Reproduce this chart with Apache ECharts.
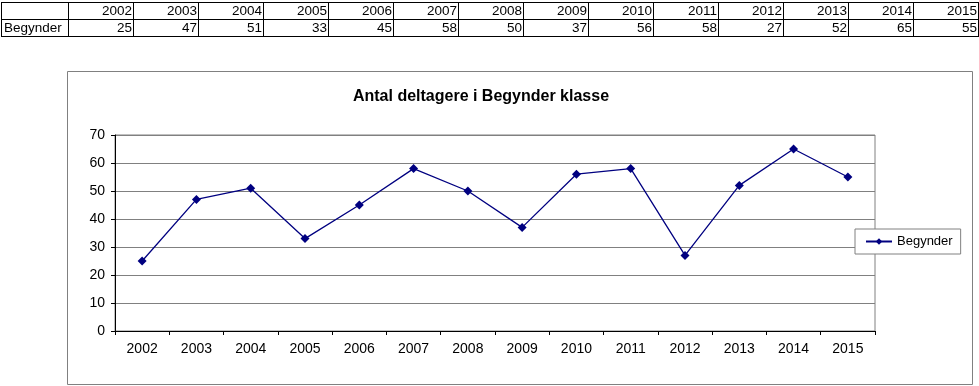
<!DOCTYPE html>
<html>
<head>
<meta charset="utf-8">
<script src="https://cdn.jsdelivr.net/npm/echarts@6/dist/echarts.min.js"></script>
<style>
  html, body { margin: 0; padding: 0; background: #fff; }
  #wrap { position: relative; width: 979px; height: 386px; overflow: hidden; }
  #chart { position: absolute; left: 0; top: 0; width: 979px; height: 386px; }
  #tbl { position: absolute; left: 1px; top: 2px; border-collapse: collapse;
         font-family: "Liberation Sans", Arial, sans-serif; font-size: 13.5px; z-index: 2; }
  #tbl td { border: 1px solid #000; height: 16px; padding: 0 1px 0 2px; line-height: 16px; }
  #tbl td.lab { width: 63px; text-align: left; }
  #tbl td.num { width: 61px; text-align: right; }
</style>
</head>
<body>
<div id="wrap">
  <table id="tbl"></table>
  <div id="chart"></div>
</div>
<script>
const years = ['2002','2003','2004','2005','2006','2007','2008','2009','2010','2011','2012','2013','2014','2015'];
const seriesName = 'Begynder';
const values = [25, 47, 51, 33, 45, 58, 50, 37, 56, 58, 27, 52, 65, 55];
const chartTitle = 'Antal deltagere i Begynder klasse';

// table
const tbl = document.getElementById('tbl');
let r1 = '<tr><td class="lab"></td>' + years.map(y => '<td class="num">' + y + '</td>').join('') + '</tr>';
let r2 = '<tr><td class="lab">' + seriesName + '</td>' + values.map(v => '<td class="num">' + v + '</td>').join('') + '</tr>';
tbl.innerHTML = r1 + r2;

const font = '"Liberation Sans", Arial, sans-serif';
const chart = echarts.init(document.getElementById('chart'), null, { renderer: 'canvas' });
chart.setOption({
  animation: false,
  backgroundColor: 'transparent',
  textStyle: { fontFamily: font },
  graphic: [{
    type: 'rect', shape: { x: 67.5, y: 71.5, width: 905, height: 313 },
    style: { fill: '#fff', stroke: '#808080', lineWidth: 1 }, z: -10
  }],
  title: {
    text: chartTitle, left: 480, top: 84, textAlign: 'center',
    textStyle: { fontFamily: font, fontSize: 16, fontWeight: 'bold', color: '#000' }
  },
  legend: {
    data: [seriesName], left: 855, top: 229, orient: 'vertical',
    itemWidth: 26, itemHeight: 8, itemGap: 0,
    padding: [6, 8, 6, 10],
    borderColor: '#808080', borderWidth: 1, borderRadius: 0,
    backgroundColor: '#fff',
    textStyle: { fontFamily: font, fontSize: 13, color: '#000' }
  },
  grid: {
    left: 115, top: 135, right: 104, bottom: 55, show: true,
    borderColor: '#808080', borderWidth: 1, backgroundColor: 'transparent', containLabel: false
  },
  xAxis: {
    type: 'category', data: years, boundaryGap: true,
    axisLine: { lineStyle: { color: '#000', width: 1 } },
    axisTick: { show: true, interval: 0, length: 4, lineStyle: { color: '#000' } },
    axisLabel: { interval: 0, margin: 11, fontSize: 14, color: '#000', fontFamily: font },
    splitLine: { show: false }
  },
  yAxis: {
    type: 'value', min: 0, max: 70, interval: 10,
    axisLine: { show: true, lineStyle: { color: '#000', width: 1 } },
    axisTick: { show: true, length: 4, lineStyle: { color: '#000' } },
    axisLabel: { margin: 10, fontSize: 14, color: '#000', fontFamily: font },
    splitLine: { show: true, lineStyle: { color: '#808080', width: 1 } }
  },
  series: [{
    name: seriesName, type: 'line', data: values,
    symbol: 'diamond', symbolSize: 9, showSymbol: true,
    lineStyle: { color: '#000080', width: 1.3 },
    itemStyle: { color: '#000080' }
  }]
});
chart.setOption({ title: { left: 476 } });
</script>
</body>
</html>
